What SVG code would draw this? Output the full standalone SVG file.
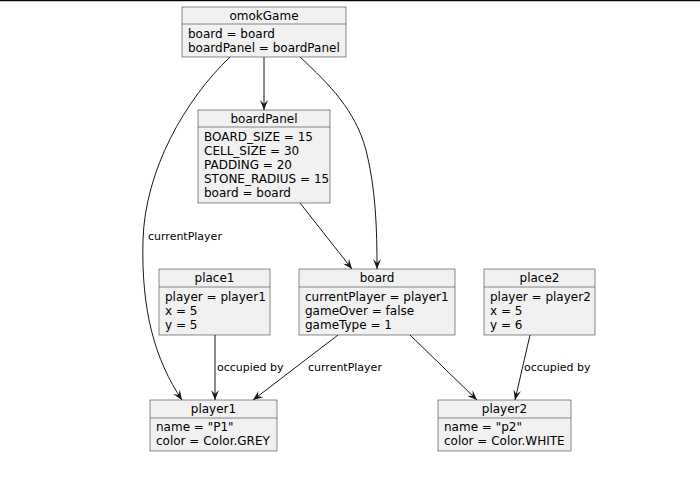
<svg xmlns="http://www.w3.org/2000/svg" width="700" height="481" viewBox="0 0 700 481">
<style>
.box{fill:#F1F1F1;stroke:#181818;stroke-width:0.5}
.sep{stroke:#181818;stroke-width:0.5}
.t{font-family:"DejaVu Sans",sans-serif;font-size:12px;fill:#000}
.tt{font-family:"DejaVu Sans",sans-serif;font-size:12px;fill:#000;text-anchor:middle}
.lbl{font-family:"DejaVu Sans",sans-serif;font-size:11px;fill:#000}
.e{fill:none;stroke:#181818;stroke-width:1;marker-end:url(#ah)}
</style>
<defs>
<marker id="ah" viewBox="0 0 10 8" refX="10" refY="4" markerWidth="10" markerHeight="8" markerUnits="userSpaceOnUse" orient="auto">
<path d="M0,0 L10,4 L0,8 L4,4 Z" fill="#181818"/>
</marker>
</defs>
<rect x="0" y="0" width="700" height="1.2" fill="#000"/>
<g id="connectors">
<path class="e" d="M264,57 L264,110"/>
<path class="e" d="M300,57 C330,85 355,110 366,150 C376,190 377,230 377,269"/>
<path class="e" d="M230,57 C185,100 145,170 143,240 C141,310 155,360 182,400"/>
<text class="lbl" x="148" y="240">currentPlayer</text>
<path class="e" d="M300,203 L352,269"/>
<path class="e" d="M215,335 L215,400"/>
<text class="lbl" x="217" y="371">occupied by</text>
<path class="e" d="M338,335 L253,400"/>
<text class="lbl" x="308" y="371">currentPlayer</text>
<path class="e" d="M410,335 L477,400"/>
<path class="e" d="M530,335 L515,400"/>
<text class="lbl" x="524" y="371">occupied by</text>
</g>
<g id="omokGame">
<rect class="box" x="182" y="7" width="164" height="50"/>
<line class="sep" x1="182" y1="24" x2="346" y2="24"/>
<text class="tt" x="264" y="20">omokGame</text>
<text class="t" x="188" y="38">board = board</text>
<text class="t" x="188" y="52">boardPanel = boardPanel</text>
</g>
<g id="boardPanel">
<rect class="box" x="198" y="110" width="132" height="93"/>
<line class="sep" x1="198" y1="127" x2="330" y2="127"/>
<text class="tt" x="264" y="123">boardPanel</text>
<text class="t" x="204" y="141">BOARD_SIZE = 15</text>
<text class="t" x="204" y="155">CELL_SIZE = 30</text>
<text class="t" x="204" y="169">PADDING = 20</text>
<text class="t" x="204" y="183">STONE_RADIUS = 15</text>
<text class="t" x="204" y="197">board = board</text>
</g>
<g id="place1">
<rect class="box" x="159" y="269" width="111" height="66"/>
<line class="sep" x1="159" y1="287" x2="270" y2="287"/>
<text class="tt" x="214.5" y="282">place1</text>
<text class="t" x="165" y="301">player = player1</text>
<text class="t" x="165" y="315">x = 5</text>
<text class="t" x="165" y="329">y = 5</text>
</g>
<g id="board">
<rect class="box" x="299" y="269" width="156" height="66"/>
<line class="sep" x1="299" y1="287" x2="455" y2="287"/>
<text class="tt" x="377" y="282">board</text>
<text class="t" x="305" y="301">currentPlayer = player1</text>
<text class="t" x="305" y="315">gameOver = false</text>
<text class="t" x="305" y="329">gameType = 1</text>
</g>
<g id="place2">
<rect class="box" x="484" y="269" width="111" height="66"/>
<line class="sep" x1="484" y1="287" x2="595" y2="287"/>
<text class="tt" x="539.5" y="282">place2</text>
<text class="t" x="490" y="301">player = player2</text>
<text class="t" x="490" y="315">x = 5</text>
<text class="t" x="490" y="329">y = 6</text>
</g>
<g id="player1">
<rect class="box" x="150" y="400" width="127" height="51"/>
<line class="sep" x1="150" y1="418" x2="277" y2="418"/>
<text class="tt" x="213.5" y="413">player1</text>
<text class="t" x="156" y="431">name = "P1"</text>
<text class="t" x="156" y="445">color = Color.GREY</text>
</g>
<g id="player2">
<rect class="box" x="438" y="400" width="133" height="51"/>
<line class="sep" x1="438" y1="418" x2="571" y2="418"/>
<text class="tt" x="504.5" y="413">player2</text>
<text class="t" x="444" y="431">name = "p2"</text>
<text class="t" x="444" y="445">color = Color.WHITE</text>
</g>
</svg>
